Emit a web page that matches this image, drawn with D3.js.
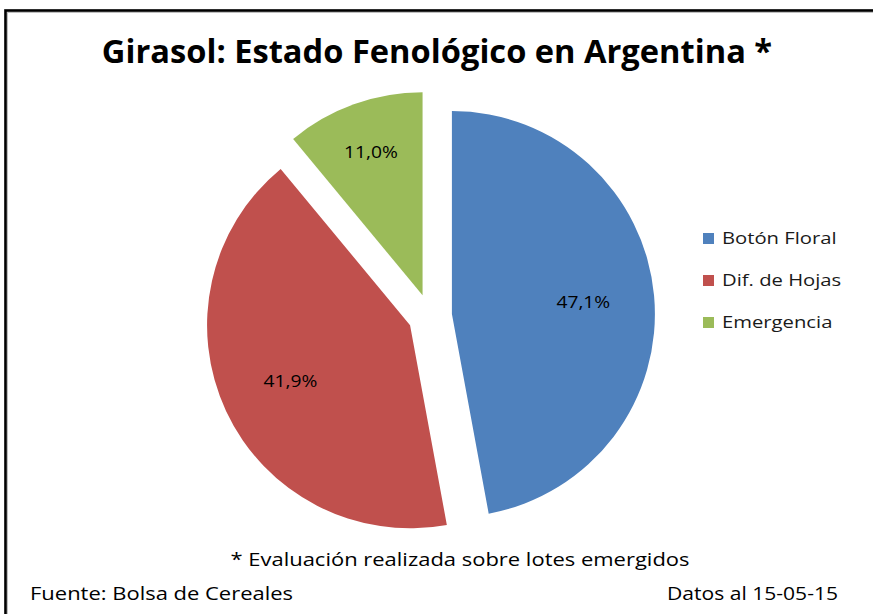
<!DOCTYPE html>
<html>
<head>
<meta charset="utf-8">
<script src="https://cdn.jsdelivr.net/npm/d3@7"></script>
<style>
  body { margin: 0; background: #fff; }
  text { font-family: "Open Sans", "Noto Sans", sans-serif; }
</style>
</head>
<body>
<svg id="chart" width="873" height="614"></svg>
<script>
// data
const categories = ["Botón Floral", "Dif. de Hojas", "Emergencia"];
const values = [47.1, 41.9, 11.0];
const colors = ["#4f81bd", "#c0504d", "#9bbb59"];

const title = "Girasol: Estado Fenológico en Argentina *";
const footnote = "* Evaluación realizada sobre lotes emergidos";
const source = "Fuente: Bolsa de Cereales";
const dateNote = "Datos al 15-05-15";

const svg = d3.select("#chart"),
  width = +svg.attr("width"),
  height = +svg.attr("height");

// the original text is a bit wider than Open Sans, stretch it sideways
function stretch(sel, k) {
  sel.each(function () {
    const w = this.getComputedTextLength();
    d3.select(this)
      .attr("textLength", w * k)
      .attr("lengthAdjust", "spacingAndGlyphs");
  });
}

// frame (right and bottom edges fall outside the picture)
svg.append("path")
  .attr("d", "M6,620 V11 H880")
  .attr("fill", "none")
  .attr("stroke", "#bfbfbf")
  .attr("stroke-width", 4);
svg.append("path")
  .attr("d", "M5.5,620 V10.5 H880")
  .attr("fill", "none")
  .attr("stroke", "#000")
  .attr("stroke-width", 2.5);

svg.append("text")
  .attr("x", 437)
  .attr("y", 63)
  .attr("text-anchor", "middle")
  .style("font-size", "32px")
  .style("font-weight", "bold")
  .text(title)
  .call(stretch, 1.02);

// pie
const cx = 430, cy = 316, radius = 203, explode = 22;
const labelRadius = [0.65, 0.65, 0.75];

const pie = d3.pie().sort(null).value((d) => d)
  .startAngle(0).endAngle(2 * Math.PI);
const arcs = pie(values);

const arc = d3.arc().innerRadius(0).outerRadius(radius);

const slices = svg.append("g")
  .attr("transform", `translate(${cx},${cy})`)
  .selectAll("g")
  .data(arcs)
  .join("g")
  .attr("transform", (d) => {
    const a = (d.startAngle + d.endAngle) / 2;
    return `translate(${explode * Math.sin(a)},${-explode * Math.cos(a)})`;
  });

slices.append("path")
  .attr("d", arc)
  .attr("fill", (d, i) => colors[i]);

slices.append("text")
  .attr("transform", (d, i) => {
    const r = radius * labelRadius[i];
    const c = d3.arc().innerRadius(r).outerRadius(r).centroid(d);
    return `translate(${c})`;
  })
  .attr("text-anchor", "middle")
  .attr("dy", "0.35em")
  .style("font-size", "16px")
  .style("fill", "#000")
  .text((d) => d.data.toFixed(1).replace(".", ",") + "%")
  .call(stretch, 1.2);

// legend
const legend = svg.append("g")
  .selectAll("g")
  .data(categories)
  .join("g")
  .attr("transform", (d, i) => `translate(703,${238 + i * 42})`);

legend.append("rect")
  .attr("x", 0)
  .attr("y", -5)
  .attr("width", 11)
  .attr("height", 11)
  .attr("fill", (d, i) => colors[i]);

legend.append("text")
  .attr("x", 19)
  .attr("y", 0)
  .attr("dy", "0.35em")
  .style("font-size", "17px")
  .style("fill", "#1a1a1a")
  .text((d) => d)
  .call(stretch, 1.19);

// notes
svg.append("text")
  .attr("x", 460)
  .attr("y", 566)
  .attr("text-anchor", "middle")
  .style("font-size", "18px")
  .text(footnote)
  .call(stretch, 1.22);

svg.append("text")
  .attr("x", 30)
  .attr("y", 600)
  .style("font-size", "18px")
  .text(source)
  .call(stretch, 1.22);

svg.append("text")
  .attr("x", 838)
  .attr("y", 600)
  .attr("text-anchor", "end")
  .style("font-size", "18px")
  .text(dateNote)
  .call(stretch, 1.17);
</script>
</body>
</html>
